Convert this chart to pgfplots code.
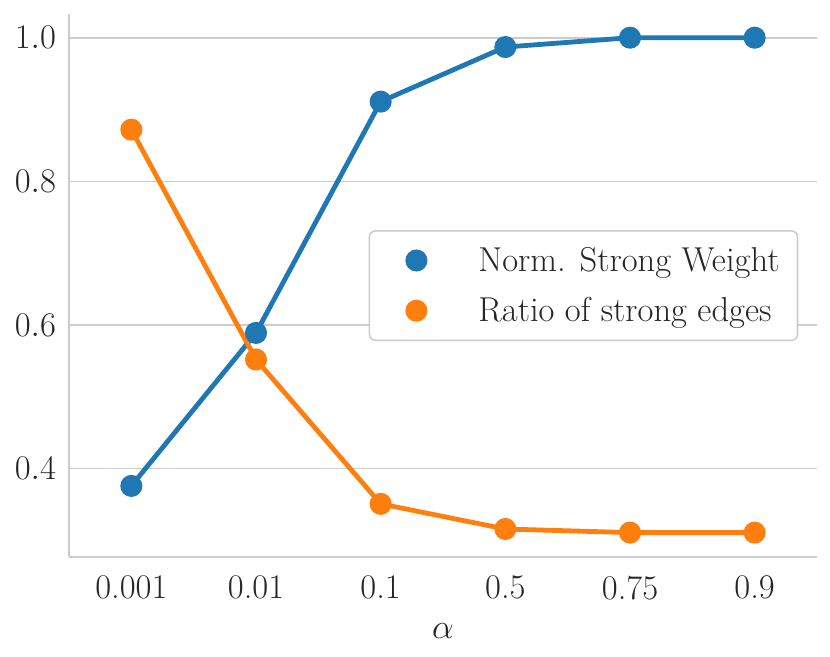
\documentclass[border=0pt]{standalone}
\usepackage{pgfplots}
\pgfplotsset{compat=1.18}
\definecolor{sbblue}{HTML}{1F77B4}
\definecolor{sborange}{HTML}{FF7F0E}
\definecolor{sbgrid}{HTML}{CCCCCC}
\definecolor{sbtext}{HTML}{262626}
\begin{document}
\begin{tikzpicture}
\begin{axis}[
	scale only axis,
	width=374pt, height=271.5pt,
	xmin=-0.5, xmax=5.5,
	ymin=0.277, ymax=1.033,
	xtick={0,1,2,3,4,5},
	xticklabels={0.001, 0.01, 0.1, 0.5, 0.75, 0.9},
	ytick={0.4,0.6,0.8,1.0},
	yticklabel style={/pgf/number format/fixed, /pgf/number format/fixed zerofill, /pgf/number format/precision=1, xshift=-3pt},
	ymajorgrids,
	grid style={sbgrid, line width=0.8pt},
	axis x line*=bottom, axis y line*=left,
	axis line style={sbgrid, line width=0.9pt, -},
	major tick length=0pt,
	tick label style={font=\LARGE, text=sbtext},
	xticklabel style={yshift=-6pt},
	xlabel={$\alpha$},
	xlabel style={font=\LARGE, text=sbtext, yshift=-5pt},
	legend style={
		at={(0.975,0.602)}, anchor=north east,
		draw=sbgrid, line width=0.8pt, rounded corners=3pt, fill=white,
		font=\LARGE, text=sbtext,
		row sep=7.5pt, inner xsep=7pt, inner ysep=6pt,
	},
	legend cell align=left,
]

% Norm. Strong Weight
\addplot[sbblue, line width=2.4pt, mark=*, mark size=4.3pt, mark options={solid, fill=sbblue, draw=none},
	legend image code/.code={\path[draw=none] (-5.5pt,0pt) -- (40pt,0pt); \fill[sbblue] (11pt,0pt) circle (4.3pt);}]
coordinates {
	(0,0.376)
	(1,0.589)
	(2,0.911)
	(3,0.987)
	(4,1.000)
	(5,1.000)
};

% Ratio of strong edges
\addplot[sborange, line width=2.4pt, mark=*, mark size=4.3pt, mark options={solid, fill=sborange, draw=none},
	legend image code/.code={\path[draw=none] (-5.5pt,0pt) -- (40pt,0pt); \fill[sborange] (11pt,0pt) circle (4.3pt);}]
coordinates {
	(0,0.872)
	(1,0.552)
	(2,0.351)
	(3,0.316)
	(4,0.311)
	(5,0.311)
};

\legend{Norm. Strong Weight, Ratio of strong edges}

\end{axis}
\pgfresetboundingbox
\path (current axis.south west) +(-34.5pt,-49.5pt) (current axis.north east) +(6.5pt,7pt);
\end{tikzpicture}
\end{document}
